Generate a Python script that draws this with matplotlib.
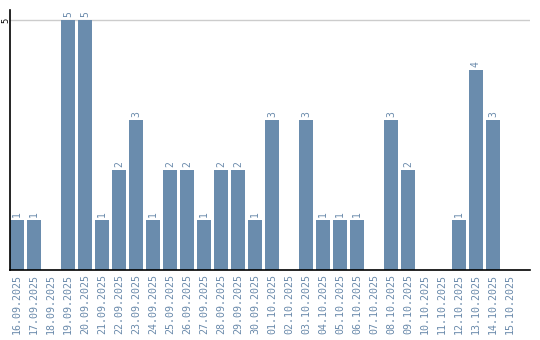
import matplotlib

matplotlib.use("Agg")
import matplotlib.pyplot as plt
import numpy as np

dates = [
    "16.09.2025", "17.09.2025", "18.09.2025", "19.09.2025", "20.09.2025",
    "21.09.2025", "22.09.2025", "23.09.2025", "24.09.2025", "25.09.2025",
    "26.09.2025", "27.09.2025", "28.09.2025", "29.09.2025", "30.09.2025",
    "01.10.2025", "02.10.2025", "03.10.2025", "04.10.2025", "05.10.2025",
    "06.10.2025", "07.10.2025", "08.10.2025", "09.10.2025", "10.10.2025",
    "11.10.2025", "12.10.2025", "13.10.2025", "14.10.2025", "15.10.2025",
]
counts = [1, 1, 0, 5, 5, 1, 2, 3, 1, 2, 2, 1, 2, 2, 1,
          3, 0, 3, 1, 1, 1, 0, 3, 2, 0, 0, 1, 4, 3, 0]

BAR_COLOR = "#6a8cad"
TEXT_COLOR = "#6a8aab"

fig = plt.figure(figsize=(5.4, 3.4), dpi=100)
ax = fig.add_axes([10 / 540, 70 / 340, 520 / 540, 260 / 340])

x = np.arange(len(dates))
ax.bar(x, counts, width=0.82, color=BAR_COLOR, zorder=2)
for xi, v in zip(x, counts):
    if v > 0:
        ax.text(xi, v + 0.06, str(v), rotation=90, ha="center", va="bottom",
                fontsize=7, color=TEXT_COLOR, family="DejaVu Sans Mono")

ax.set_xlim(-0.41, 30.18)
ax.set_ylim(0, 5.2)
ax.axhline(5, color="#cccccc", linewidth=1, zorder=1)

ax.set_xticks(x)
ax.set_xticklabels(dates, rotation=90, fontsize=7.2, color=TEXT_COLOR,
                   family="DejaVu Sans Mono")
ax.set_yticks([5])
ax.set_yticklabels(["5"], rotation=90, fontsize=6, va="center", ha="center")
ax.tick_params(axis="x", length=0, pad=3)
ax.tick_params(axis="y", length=0, pad=3.2)

for side in ("top", "right"):
    ax.spines[side].set_visible(False)
for side in ("left", "bottom"):
    ax.spines[side].set_color("black")
    ax.spines[side].set_linewidth(1.2)

fig.savefig("out.png", dpi=100)
